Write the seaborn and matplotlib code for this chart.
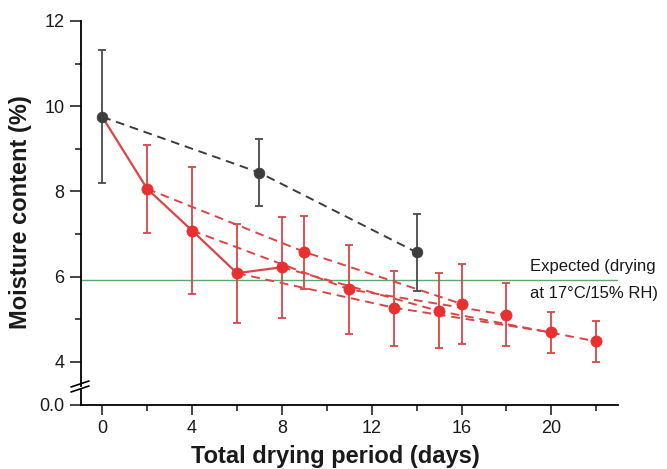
import matplotlib
matplotlib.use("Agg")
import matplotlib.pyplot as plt
from matplotlib.lines import Line2D
from matplotlib.ticker import FixedLocator
import seaborn as sns
import pandas as pd

# ---------------- data ----------------
grey_days = [0, 7, 14]
grey_mc = [9.75, 8.44, 6.57]
grey_lo = [8.20, 7.66, 5.66]
grey_hi = [11.32, 9.22, 7.47]

red_days = [2, 4, 6, 8, 9, 11, 13, 15, 16, 18, 20, 22]
red_mc = [8.06, 7.08, 6.08, 6.22, 6.58, 5.70, 5.27, 5.19, 5.36, 5.10, 4.69, 4.48]
red_lo = [7.03, 5.59, 4.92, 5.02, 5.72, 4.65, 4.38, 4.33, 4.42, 4.37, 4.20, 4.00]
red_hi = [9.09, 8.57, 7.24, 7.39, 7.43, 6.74, 6.14, 6.08, 6.30, 5.86, 5.16, 4.95]

continuous_days = [0, 2, 4, 6, 8]
interval_groups = [[2, 9, 16], [4, 11, 18], [6, 13, 20], [8, 15, 22]]

expected_mc = 5.91
expected_label = "Expected (drying\nat 17°C/15% RH)"
x_ticks = [0, 4, 8, 12, 16, 20]
y_ticks = [4, 6, 8, 10, 12]

# ---------------- style ----------------
sns.set_theme(style="ticks")
plt.rcParams["font.family"] = ["Liberation Sans", "DejaVu Sans"]

RED = "#e8302f"
RED_LINE = "#dc4447"
GREY = "#3d3d3d"
GREEN = "#5ea86c"
TXT = "#1a1a1a"

fig = plt.figure(figsize=(6.67, 4.69), dpi=100)
W, H = 667, 469
left_px, right_px = 80.5, 618
top_px, top_bottom_px = 21, 386
bot_top_px, bot_bottom_px = 390, 404.5

ax = fig.add_axes([left_px / W, 1 - top_bottom_px / H,
                   (right_px - left_px) / W, (top_bottom_px - top_px) / H])
axb = fig.add_axes([left_px / W, 1 - bot_bottom_px / H,
                    (right_px - left_px) / W, (bot_bottom_px - bot_top_px) / H],
                   sharex=ax)

all_mc = {d: v for d, v in zip(grey_days, grey_mc)}
all_mc.update({d: v for d, v in zip(red_days, red_mc)})

# expected line
ax.axhline(expected_mc, color=GREEN, lw=1.0, zorder=1)

# continuous solid red line
cont = pd.DataFrame({"day": continuous_days, "mc": [all_mc[d] for d in continuous_days]})
sns.lineplot(data=cont, x="day", y="mc", ax=ax, color=RED_LINE, lw=1.6, zorder=2)

# interval dashed red lines
for g in interval_groups:
    df = pd.DataFrame({"day": g, "mc": [all_mc[d] for d in g]})
    sns.lineplot(data=df, x="day", y="mc", ax=ax, color=RED_LINE, lw=1.4,
                 linestyle=(0, (4.5, 3)), zorder=2)

# grey dashed line
gdf = pd.DataFrame({"day": grey_days, "mc": grey_mc})
sns.lineplot(data=gdf, x="day", y="mc", ax=ax, color=GREY, lw=1.4,
             linestyle=(0, (4.5, 3)), zorder=3)

# error bars
ax.errorbar(red_days, red_mc,
            yerr=[[m - l for m, l in zip(red_mc, red_lo)],
                  [h - m for m, h in zip(red_mc, red_hi)]],
            fmt="none", ecolor=RED_LINE, elinewidth=1.3, capsize=3.2, capthick=1.3, zorder=4)
ax.errorbar(grey_days, grey_mc,
            yerr=[[m - l for m, l in zip(grey_mc, grey_lo)],
                  [h - m for m, h in zip(grey_mc, grey_hi)]],
            fmt="none", ecolor="#4a4a4a", elinewidth=1.3, capsize=3.2, capthick=1.3, zorder=4)

# markers
rdf = pd.DataFrame({"day": red_days, "mc": red_mc})
sns.scatterplot(data=rdf, x="day", y="mc", ax=ax, color=RED, s=65, edgecolor=RED,
                linewidth=0.5, zorder=5)
sns.scatterplot(data=gdf, x="day", y="mc", ax=ax, color=GREY, s=60, edgecolor=GREY,
                linewidth=0.5, zorder=6)

# axes limits and ticks
ax.set_xlim(-0.97, 22.97)
ax.set_ylim(12 - (top_bottom_px - top_px) / 42.6, 12)
ax.yaxis.set_major_locator(FixedLocator(y_ticks))
ax.yaxis.set_minor_locator(FixedLocator([5, 7, 9, 11]))
ax.tick_params(axis="y", which="major", length=8, width=1.2, labelsize=13,
               direction="out", labelcolor=TXT)
ax.tick_params(axis="y", which="minor", length=4.5, width=1.2, direction="out")
ax.tick_params(axis="x", which="both", bottom=False, labelbottom=False)
for s in ["top", "right", "bottom"]:
    ax.spines[s].set_visible(False)
ax.spines["left"].set_linewidth(1.3)
ax.spines["left"].set_color("black")
ax.set_xlabel("")
ax.set_ylabel("")

axb.set_ylim(0, 0.5)
axb.yaxis.set_major_locator(FixedLocator([0.0]))
axb.set_yticklabels(["0.0"])
axb.xaxis.set_major_locator(FixedLocator(x_ticks))
axb.xaxis.set_minor_locator(FixedLocator([2, 6, 10, 14, 18, 22]))
axb.tick_params(axis="y", which="major", length=8, width=1.2, labelsize=13,
                direction="out", labelcolor=TXT)
axb.tick_params(axis="x", which="major", length=7.5, width=1.2, labelsize=13,
                direction="out", labelcolor=TXT)
axb.tick_params(axis="x", which="minor", length=4, width=1.2, direction="out")
for s in ["top", "right"]:
    axb.spines[s].set_visible(False)
for s in ["left", "bottom"]:
    axb.spines[s].set_linewidth(1.3)
    axb.spines[s].set_color("black")
axb.patch.set_visible(False)

fig.text(335 / W, 1 - 456 / H, "Total drying period (days)", fontsize=17,
         fontweight="bold", ha="center", va="center", color=TXT)
fig.text(21 / W, 1 - 212 / H, "Moisture content (%)", rotation=90, fontsize=17,
         fontweight="bold", ha="center", va="center", color=TXT)

# expected annotation
fig.text(530 / W, 1 - 280 / H, expected_label, fontsize=12, ha="left", va="center",
         linespacing=2.05, color=TXT)

# axis break marks
for y0 in (387, 392):
    fig.add_artist(Line2D([71 / W, 89 / W], [1 - y0 / H, 1 - (y0 - 6) / H],
                          transform=fig.transFigure, color="black", lw=1.2))

fig.savefig("out.png", dpi=100)
